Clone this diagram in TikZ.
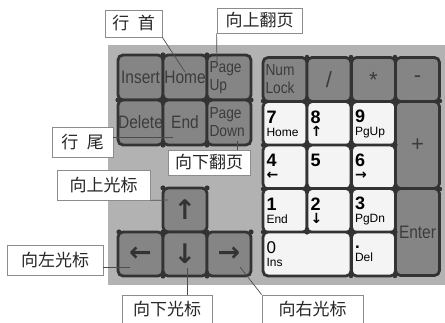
\documentclass[tikz,border=0pt]{standalone}
\usepackage{fontspec}
\setmainfont{Liberation Sans}
\newfontfamily\cjk{Noto Sans CJK SC}
\newfontfamily\dv{DejaVu Sans}
\newfontfamily\keyf[FakeStretch=0.86]{Liberation Sans}
\newcommand\digf{\fontsize{18}{17}\selectfont\bfseries}
\newcommand\sarr{\dv\bfseries\fontsize{14}{13}\selectfont}
\definecolor{panel}{HTML}{B2B2B2}
\definecolor{dkey}{HTML}{858585}
\definecolor{edge}{HTML}{333333}
\definecolor{wkey}{HTML}{F4F4F4}
\definecolor{ktext}{HTML}{3C3C3C}
\begin{document}
\begin{tikzpicture}[x=1pt,y=-1pt,
  key/.style={draw=edge, line width=2.8pt, rounded corners=5pt, minimum width=44pt,
    minimum height=44pt, inner sep=0pt, font=\keyf\fontsize{18}{16}\selectfont, text=ktext},
  dk/.style={key, fill=dkey},
  twoline/.style={align=left, text width=39pt, font=\keyf\fontsize{16}{18}\selectfont},
  wk/.style={key, fill=wkey, text=black, align=left, text width=37pt,
    font=\fontsize{12}{13}\selectfont},
  arr/.style={font=\dv\bfseries\fontsize{27}{27}\selectfont, text=edge},
  sym/.style={font=\fontsize{22}{22}\selectfont},
  callout/.style={draw=black!45, line width=0.8pt, fill=white, inner sep=0pt,
    font=\cjk\fontsize{17}{17}\selectfont, text=black!85},
  lead/.style={draw=black!70, line width=0.7pt},
  dot/.style={fill=edge}]
\useasboundingbox (0,0) rectangle (445,323);
\fill[white] (0,0) rectangle (445,323);
% panel
\fill[panel] (108,45) rectangle (445,285);
% left block
\node[dk, minimum width=45pt, minimum height=45pt] (ins) at (140.5,77.5) {Insert};
\node[dk, minimum height=45pt] (home) at (185,77.5) {Home};
\node[dk, twoline, minimum height=45pt] (pgup) at (229,77.5) {Page\\Up};
\node[dk, minimum width=45pt, minimum height=45pt] (del) at (140.5,122.5) {Delete};
\node[dk, minimum height=45pt] (end) at (185,122.5) {End};
\node[dk, twoline, minimum height=45pt] (pgdn) at (229,122.5) {Page\\Down};
% numpad
\node[dk, twoline] (nl) at (285,79.5) {Num\\Lock};
\node[dk, sym] (sl) at (329,79.5) {/};
\node[dk, sym] (st) at (373.5,79.5) {*};
\node[dk, sym] (mi) at (417.5,79.5) {-};
\node[wk] (k7) at (285,123.5) {{\digf 7}\\Home};
\node[wk] (k8) at (329,123.5) {{\digf 8}\\{\sarr ↑}};
\node[wk] (k9) at (373.5,123.5) {{\digf 9}\\PgUp};
\node[dk, sym, minimum height=87pt] (plus) at (417.5,145) {+};
\node[wk] (k4) at (285,167) {{\digf 4}\\{\sarr ←}};
\node[wk] (k5) at (329,167) {{\digf 5}\\\mbox{}};
\node[wk] (k6) at (373.5,167) {{\digf 6}\\{\sarr →}};
\node[wk] (k1) at (285,210.5) {{\digf 1}\\End};
\node[wk] (k2) at (329,210.5) {{\digf 2}\\{\sarr ↓}};
\node[wk] (k3) at (373.5,210.5) {{\digf 3}\\PgDn};
\node[dk, minimum height=87pt] (enter) at (417.5,232) {Enter};
\node[wk, minimum width=88pt, text width=81pt] (k0) at (307,254) {{\fontsize{17}{16}\selectfont 0}\\Ins};
\node[wk] (kd) at (373.5,254) {{\fontsize{17}{16}\selectfont\bfseries .}\\Del};
% arrow keys
\node[dk, arr] (up) at (185,210) {↑};
\node[dk, arr, minimum width=45pt] (lt) at (140.5,254) {←};
\node[dk, arr] (dn) at (185,254) {↓};
\node[dk, arr] (rt) at (229,254) {→};
% junction dots
\foreach \p in {(163,100),(207,100),(163,55),(207,55),(163,145),(207,145),(118,100),(251,100),
  (163,188),(207,188),(163,232),(207,232),(119,232),(251,232),(163,276),(207,276)}
  \fill[dot] \p circle (2.6);
\foreach \xx in {307,351,395} \foreach \yy in {101,145,189,232}
  \fill[dot] (\xx,\yy) circle (2.6);
\foreach \p in {(307,57),(351,57),(395,57),(263,101),(263,145),(263,189),(263,232),
  (440,101),(440,189),(351,276),(395,276)}
  \fill[dot] \p circle (2.2);
% callouts
\node[callout, minimum width=57pt, minimum height=27pt] (hs) at (133.5,23.5) {行\hspace{0.5em}首};
\node[callout, minimum width=85pt, minimum height=25pt] (pu) at (259.5,20.5) {向上翻页};
\node[callout, minimum width=61pt, minimum height=30pt] (hw) at (82.5,142) {行\hspace{0.5em}尾};
\node[callout, minimum width=82pt, minimum height=25pt] (pd) at (209,162.5) {向下翻页};
\node[callout, minimum width=93pt, minimum height=30pt] (ug) at (103.5,185) {向上光标};
\node[callout, minimum width=96pt, minimum height=30pt] (lg) at (55,260) {向左光标};
\node[callout, minimum width=90pt, minimum height=28pt] (dg) at (167,309) {向下光标};
\node[callout, minimum width=101pt, minimum height=28pt] (rg) at (312.5,309) {向右光标};
% connector ends
\coordinate (ehs) at (185,72);
\coordinate (epu) at (217,64);
\coordinate (ehw) at (173,137);
\coordinate (epd) at (237,141);
\coordinate (eug) at (168,200);
\coordinate (elg) at (130,267);
\coordinate (edg) at (187,268);
\coordinate (erg) at (240,267);
\draw[lead] (hs.south east) -- (ehs);
\draw[lead] (pu.south west) -- (epu);
\draw[lead] ([yshift=5pt]hw.east) -- (ehw);
\draw[lead] (epd) -- (epd |- pd.north);
\draw[lead] (ug.south east) -- (eug);
\draw[lead] ([yshift=-7pt]lg.east) -- (elg);
\draw[lead] (edg) -- (edg |- dg.north);
\draw[lead] (rg.north west) -- (erg);
\end{tikzpicture}
\end{document}
